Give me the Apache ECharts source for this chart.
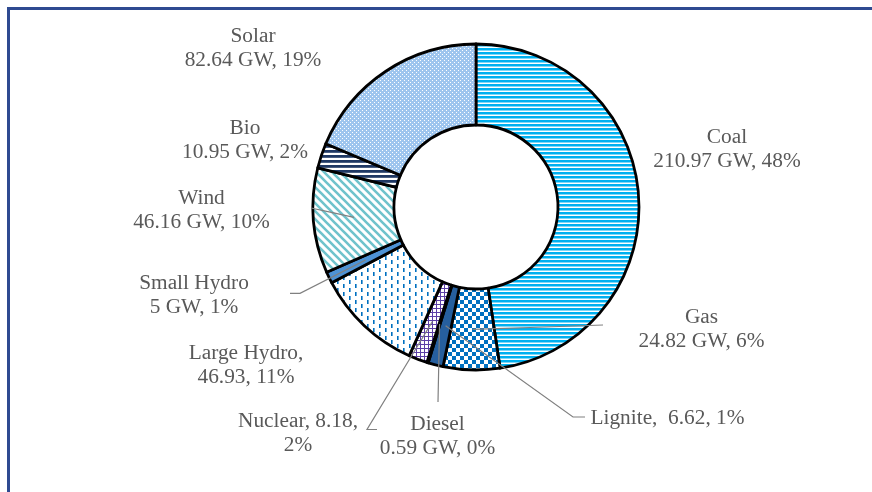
<!DOCTYPE html>
<html><head><meta charset="utf-8">
<script src="https://cdn.jsdelivr.net/npm/echarts@6/dist/echarts.min.js"></script>
<style>
html,body{margin:0;padding:0;background:#fff;}
#frame{position:absolute;left:7px;top:7px;width:865px;height:485px;border-top:3px solid #2E4A91;border-left:3px solid #2E4A91;box-sizing:border-box;}
#chart{position:absolute;left:0;top:0;width:872px;height:492px;}
</style></head>
<body><div id="frame"></div><div id="chart"></div>
<script>
// ---- data ----
const categories = ['Coal', 'Gas', 'Lignite', 'Diesel', 'Nuclear', 'Large Hydro', 'Small Hydro', 'Wind', 'Bio', 'Solar'];
const capacityGW = [210.97, 24.82, 6.62, 0.59, 8.18, 46.93, 5, 46.16, 10.95, 82.64];
const labelFormats = [
  '{b}\n{c} GW, {d}%', '{b}\n{c} GW, {d}%', '{b},  {c}, {d}%', '{b}\n{c} GW, {d}%',
  '{b}, {c},\n{d}%', '{b},\n{c}, {d}%', '{b}\n{c} GW, {d}%', '{b}\n{c} GW, {d}%',
  '{b}\n{c} GW, {d}%', '{b}\n{c} GW, {d}%'
];
// ---- layout (label centres, leader attach offsets relative to label centre) ----
const labelCenters = [[727,149],[701.5,329.5],[667.5,418],[437.5,436.5],[298,433],[246,365.5],[194,295],[201.5,210],[245,140],[253,48.5]];
const leaderAnchors = [null, [[-98.5,-4.5]], [[-94.5,-1],[-82.5,-1]], [[0.5,-34.5]], [[69,-3.5],[79,-3.5]], null, [[106,-1.7],[96,-1.7]], [[109.5,-2]], null, null];

function pattern(w, h, draw) {
  const c = document.createElement('canvas');
  c.width = w; c.height = h;
  const ctx = c.getContext('2d');
  ctx.fillStyle = '#fff'; ctx.fillRect(0, 0, w, h);
  draw(ctx, w, h);
  return { image: c, repeat: 'repeat' };
}
const fills = [
  pattern(8, 8, (x) => { x.fillStyle = '#00B0F0'; x.fillRect(0, 0, 8, 2.5); x.fillRect(0, 4, 8, 2.5); }),
  pattern(8, 8, (x) => { x.fillStyle = '#0070C0'; x.fillRect(0, 0, 4, 4); x.fillRect(4, 4, 4, 4); }),
  '#265F9E',
  '#000000',
  pattern(4, 4, (x) => { x.fillStyle = '#5C3FA6'; x.fillRect(0, 0, 4, 1); x.fillRect(0, 0, 1, 4); }),
  pattern(12, 8, (x) => { x.fillStyle = '#0070C0'; x.fillRect(1, 0, 1.6, 4); x.fillRect(7, 4, 1.6, 4); }),
  '#4E93D6',
  pattern(8, 8, (x, w) => { x.strokeStyle = '#6FC3CC'; x.lineWidth = 2.6; x.beginPath();
    x.moveTo(-1, -1); x.lineTo(w + 1, w + 1); x.moveTo(-2, w - 2); x.lineTo(2, w + 2); x.moveTo(w - 2, -2); x.lineTo(w + 2, 2); x.stroke(); }),
  pattern(5, 5, (x) => { x.fillStyle = '#1F3864'; x.fillRect(0, 0, 5, 2.8); }),
  pattern(4, 4, (x) => { x.fillStyle = '#9EC5EE'; x.fillRect(0, 0, 4, 4); x.fillStyle = '#fff'; x.fillRect(0, 0, 1, 1); x.fillRect(2, 2, 1, 1); })
];

const chart = echarts.init(document.getElementById('chart'), null, { renderer: 'canvas' });

const sliceData = categories.map((name, i) => ({
  name: name, value: capacityGW[i], itemStyle: { color: fills[i] }
}));
const labelData = categories.map((name, i) => ({
  name: name,
  value: capacityGW[i],
  label: { formatter: labelFormats[i] },
  labelLine: { show: !!leaderAnchors[i] }
}));

const common = {
  type: 'pie',
  center: [476, 207],
  radius: [82, 163],
  startAngle: 90,
  clockwise: true,
  avoidLabelOverlap: false,
  percentPrecision: 0,
  emphasis: { disabled: true }
};

chart.setOption({
  backgroundColor: 'transparent',
  animation: false,
  series: [
    Object.assign({}, common, {
      z: 2,
      itemStyle: { borderColor: '#000', borderWidth: 2.8 },
      label: { show: false },
      labelLine: { show: false },
      data: sliceData
    }),
    Object.assign({}, common, {
      z: 5,
      silent: true,
      itemStyle: { color: 'rgba(0,0,0,0)', borderWidth: 0 },
      label: {
        show: true,
        position: 'outside',
        color: '#595959',
        fontFamily: "'Liberation Serif', 'Times New Roman', serif",
        fontSize: 21.33,
        lineHeight: 24,
        align: 'center'
      },
      labelLine: { show: true, lineStyle: { color: '#808080', width: 1.2 }, length: 10, length2: 10 },
      labelLayout: function (p) {
        const i = p.dataIndex;
        const c = labelCenters[i];
        const res = { x: c[0], y: c[1], align: 'center', verticalAlign: 'middle', hideOverlap: false };
        const anchors = leaderAnchors[i];
        if (anchors) {
          const lay = chart.getModel().getSeriesByIndex(p.seriesIndex).getData().getItemLayout(i);
          const mid = (lay.startAngle + lay.endAngle) / 2;
          const rm = (lay.r + lay.r0) / 2;
          const sp = [lay.cx + rm * Math.cos(mid), lay.cy + rm * Math.sin(mid)];
          const pts = [sp];
          if (anchors.length === 1) {
            const e = [c[0] + anchors[0][0], c[1] + anchors[0][1]];
            pts.push([(sp[0] + e[0]) / 2, (sp[1] + e[1]) / 2], e);
          } else {
            anchors.forEach(a => pts.push([c[0] + a[0], c[1] + a[1]]));
          }
          res.labelLinePoints = pts;
        }
        return res;
      },
      data: labelData
    })
  ]
});
</script>
</body></html>
